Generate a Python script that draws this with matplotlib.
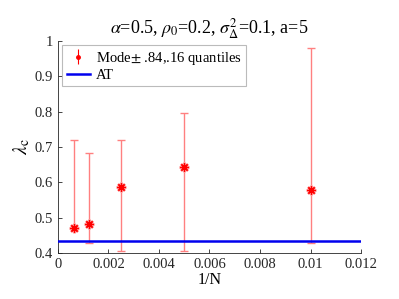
import numpy as np
import matplotlib.pyplot as plt

# data
inv_n = [1/1600, 1/800, 1/400, 1/200, 1/100]
mode = [0.471, 0.481, 0.586, 0.642, 0.577]
upper = [0.719, 0.682, 0.719, 0.797, 0.981]
lower = [0.470, 0.427, 0.405, 0.405, 0.428]
at_value = 0.434

plt.rcParams['font.family'] = ['Liberation Serif', 'DejaVu Serif']
plt.rcParams['mathtext.fontset'] = 'stix'

fig = plt.figure(figsize=(3.99, 2.99), dpi=100)
ax = fig.add_axes([0.145, 0.154, 0.760, 0.709])

mode = np.array(mode)
yerr = np.array([mode - np.array(lower), np.array(upper) - mode])
ax.errorbar(inv_n, mode, yerr=yerr, fmt='none', ecolor='#ff8080', elinewidth=1,
            capsize=3, capthick=1, zorder=2)
# asterisk marker with a light halo
ax.plot(inv_n, mode, linestyle='none', marker=(8, 2, 0), color='#ffa0a0',
        markersize=7, markeredgewidth=1.8, zorder=3)
ax.plot(inv_n, mode, linestyle='none', marker=(8, 2, 0), color='red',
        markersize=6, markeredgewidth=0.9, zorder=3)
ax.axhline(at_value, color='#0000ee', lw=1.8, zorder=4)

# legend proxies
eb = ax.errorbar([], [], yerr=[], fmt='.', color='red', ecolor='red',
                 capsize=2, markersize=5, elinewidth=0.8, capthick=0.8)
ln, = ax.plot([], [], color='#0000ee', lw=1.8)
leg = ax.legend([eb, ln], [r'Mode$\pm$ .84,.16 quantiles', 'AT'],
                loc='upper left', fontsize=10.5, frameon=True, fancybox=False,
                handlelength=1.6, borderpad=0.3, labelspacing=0.15,
                handletextpad=0.4, borderaxespad=0.3)
leg.get_frame().set_edgecolor('#aaaaaa')
leg.get_frame().set_linewidth(0.8)

ax.set_xlim(0, 0.012)
ax.set_ylim(0.4, 1.0)
ax.set_xticks([0, 0.002, 0.004, 0.006, 0.008, 0.01, 0.012])
ax.set_xticklabels(['0', '0.002', '0.004', '0.006', '0.008', '0.01', '0.012'])
ax.set_yticks([0.4, 0.5, 0.6, 0.7, 0.8, 0.9, 1.0])
ax.set_yticklabels(['0.4', '0.5', '0.6', '0.7', '0.8', '0.9', '1'])

ax.spines['top'].set_visible(False)
ax.spines['right'].set_visible(False)
for s in ['left', 'bottom']:
    ax.spines[s].set_color('#262626')
    ax.spines[s].set_linewidth(0.6)
ax.tick_params(direction='in', length=3, width=0.6, labelsize=10.5,
               colors='#262626')

ax.set_xlabel('1/N', fontsize=11.5, labelpad=1)
ax.set_ylabel(r'$\lambda_{\rm c}$', fontsize=14, labelpad=2)
ax.set_title(r'$\alpha$=0.5, $\rho_0$=0.2, $\sigma^2_\Delta$=0.1, a=5',
             fontsize=13, pad=5)

plt.savefig('out.png', dpi=100)
